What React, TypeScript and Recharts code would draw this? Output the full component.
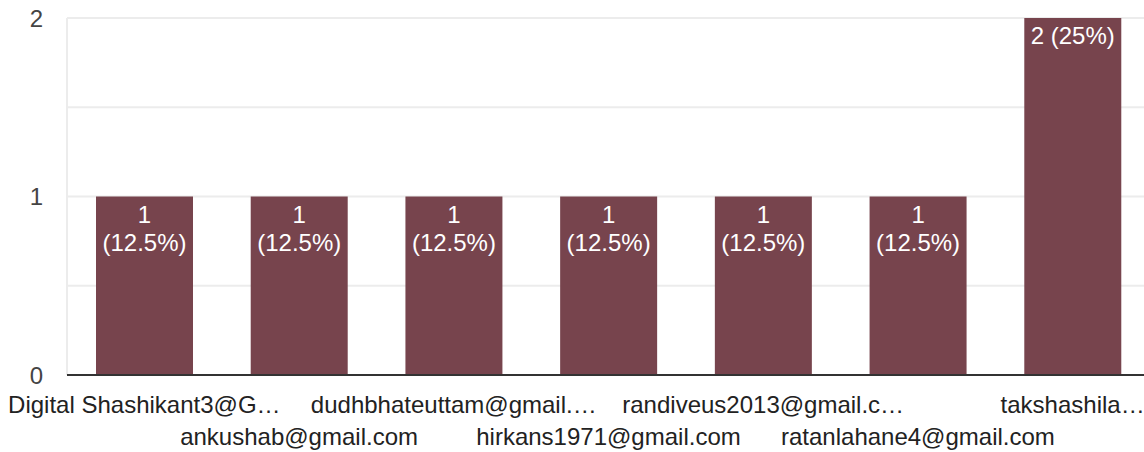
import React from "react";
import { BarChart, Bar, XAxis, YAxis, CartesianGrid, LabelList } from "recharts";

const categories = [
  "Digital Shashikant3@G…",
  "ankushab@gmail.com",
  "dudhbhateuttam@gmail.…",
  "hirkans1971@gmail.com",
  "randiveus2013@gmail.c…",
  "ratanlahane4@gmail.com",
  "takshashila…",
];
const counts = [1, 1, 1, 1, 1, 1, 2];
const percents = ["12.5%", "12.5%", "12.5%", "12.5%", "12.5%", "12.5%", "25%"];
const yTicks = [0, 0.5, 1, 1.5, 2];

const data = categories.map((name, i) => ({ name, count: counts[i], pct: percents[i] }));

const FONT = "Arial, 'Liberation Sans', sans-serif";
const BAR_COLOR = "#77444d";

// rough Arial width, 24px
const charW: Record<string, number> = { "(": 0.333, ")": 0.333, ".": 0.278, " ": 0.278, "%": 0.889 };
function textWidth(s: string, size: number) {
  let w = 0;
  for (const c of s) w += charW[c] ?? 0.556;
  return w * size;
}

function XTick(props: any) {
  const { x, y, payload, index } = props;
  const row = index % 2;
  return (
    <text
      x={x}
      y={y + 30 + row * 32}
      textAnchor="middle"
      fill="#222"
      fontSize={24}
      fontFamily={FONT}
    >
      {payload.value}
    </text>
  );
}

function BarLabel(props: any) {
  const { x, y, width, index } = props;
  const d = data[index];
  const full = `${d.count} (${d.pct})`;
  const cx = x + width / 2;
  const lines = textWidth(full, 24) > width - 4 ? [String(d.count), `(${d.pct})`] : [full];
  return (
    <g>
      {lines.map((l, i) => (
        <text
          key={i}
          x={cx}
          y={y + 26 + i * 28}
          textAnchor="middle"
          fill="#fff"
          fontSize={24}
          fontFamily={FONT}
        >
          {l}
        </text>
      ))}
    </g>
  );
}

export default function App() {
  return (
    <div style={{ position: "absolute", left: 0, top: 0, width: 1144, height: 452, background: "#fff" }}>
      <BarChart
        width={1144}
        height={452}
        data={data}
        margin={{ top: 18, right: -6, bottom: 0, left: 0 }}
      >
        <CartesianGrid vertical={false} stroke="#ececec" strokeWidth={2} />
        <YAxis
          width={67}
          domain={[0, 2]}
          ticks={yTicks}
          interval={0}
          tickLine={false}
          tickSize={0}
          tickMargin={24}
          axisLine={{ stroke: "#ececec", strokeWidth: 2 }}
          tickFormatter={(v: number) => (Number.isInteger(v) ? String(v) : "")}
          tick={{ fill: "#444", fontSize: 24, fontFamily: FONT }}
        />
        <XAxis
          dataKey="name"
          height={77}
          interval={0}
          tickLine={false}
          axisLine={{ stroke: "#333", strokeWidth: 2 }}
          tick={<XTick />}
        />
        <Bar dataKey="count" fill={BAR_COLOR} barSize={97} isAnimationActive={false}>
          <LabelList dataKey="count" content={<BarLabel />} />
        </Bar>
      </BarChart>
    </div>
  );
}
